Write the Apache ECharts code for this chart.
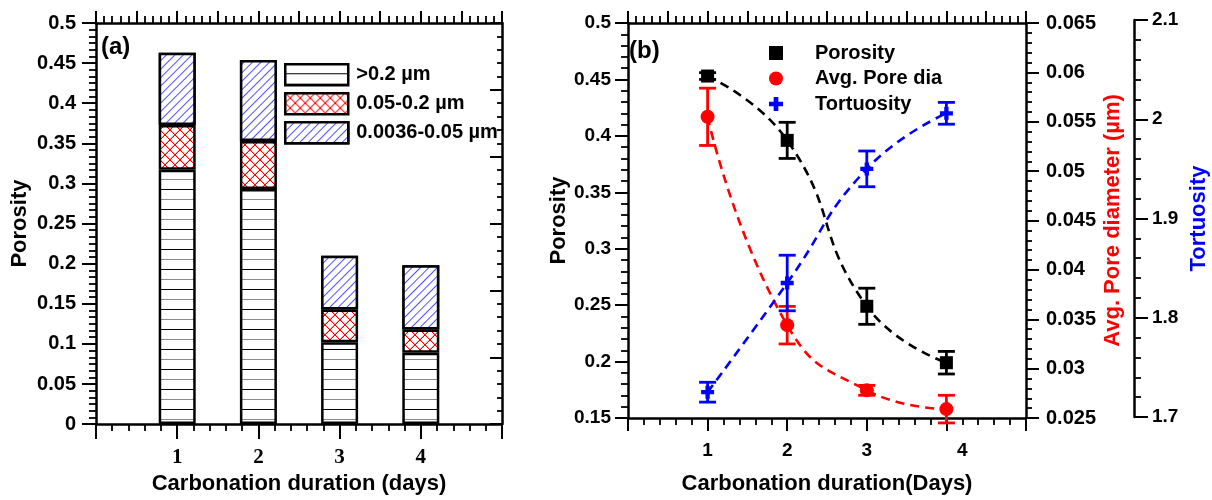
<!DOCTYPE html>
<html><head><meta charset="utf-8">
<script src="https://cdn.jsdelivr.net/npm/echarts@6/dist/echarts.min.js"></script>
<style>html,body{margin:0;padding:0;background:#fff}#c{width:1212px;height:500px}</style>
</head><body><div id="c"></div>
<script>
// ---------- Panel (a): stacked porosity by pore size ----------
const daysA = [1, 2, 3, 4];
const poreLarge = [0.317, 0.293, 0.102, 0.089];   // >0.2 µm
const poreMid   = [0.056, 0.060, 0.041, 0.029];   // 0.05-0.2 µm
const poreSmall = [0.090, 0.101, 0.067, 0.080];   // 0.0036-0.05 µm
const namesA = ['>0.2 µm', '0.05-0.2 µm', '0.0036-0.05 µm'];

// ---------- Panel (b): porosity, pore diameter, tortuosity ----------
const daysB = [1, 2, 3, 4];
const porosity      = [0.453, 0.396, 0.249, 0.199];
const porosityErr   = [0.003, 0.016, 0.016, 0.010];
const poreDia       = [0.0555, 0.0344, 0.0278, 0.0259];
const poreDiaErr    = [0.0029, 0.0019, 0.0005, 0.0014];
const tortuosity    = [1.725, 1.835, 1.950, 2.006];
const tortuosityErr = [0.010, 0.028, 0.018, 0.011];
const namesB = ['Porosity', 'Avg. Pore dia', 'Tortuosity'];

const xTickLabels = ['1', '2', '3', '4'];

const FONT = '"Liberation Sans", Arial, sans-serif';
const SERIF = '"Liberation Serif", "Times New Roman", serif';
const PLUS = 'path://M4,0H8V4H12V8H8V12H4V8H0V4H4Z';

function mkPattern(w, h, draw) {
  const c = document.createElement('canvas'); c.width = w; c.height = h;
  const g = c.getContext('2d'); g.fillStyle = '#fff'; g.fillRect(0, 0, w, h); draw(g);
  return { image: c, repeat: 'repeat' };
}
// horizontal lines (alternating dark / grey)
const patH = mkPattern(4, 20, g => { g.fillStyle = '#000'; g.fillRect(0, 9, 4, 1); g.fillStyle = '#8a8a8a'; g.fillRect(0, 19, 4, 1); });
// red cross-hatch with dots at the crossings
const patX = mkPattern(10, 10, g => {
  g.fillStyle = '#ff0000';
  for (let i = 0; i < 10; i++) { g.fillRect(i, i, 1, 1); g.fillRect(i, 9 - i, 1, 1); }
  g.fillRect(4, 4, 2, 2); g.fillRect(0, 0, 1, 1); g.fillRect(9, 0, 1, 1); g.fillRect(0, 9, 1, 1); g.fillRect(9, 9, 1, 1);
  g.fillStyle = 'rgba(255,0,0,0.35)';
  for (let i = 0; i < 9; i++) { g.fillRect(i + 1, i, 1, 1); g.fillRect(i, 8 - i, 1, 1); }
});
// blue forward-diagonal hatch via ECharts decal
const decalD = { symbol: 'rect', symbolSize: 1, color: '#5050ff', backgroundColor: '#ffffff',
  dashArrayX: [8, 0], dashArrayY: [0.9, 5], rotation: -Math.PI / 4 };

const AXL = { show: true, onZero: false, lineStyle: { color: '#000', width: 2.5 } };
function tick(len, inside) { return { show: true, length: len, inside: !!inside, lineStyle: { color: '#000', width: 2 } }; }
function minor(n, len) { return { show: true, splitNumber: n, length: len, lineStyle: { color: '#000', width: 1.8 } }; }
const NOSPLIT = { show: false };
function nameStyle(color) { return { fontFamily: FONT, fontWeight: 'bold', fontSize: 22, color: color || '#000' }; }
function lab(size, margin) { return { color: '#000', fontFamily: FONT, fontWeight: 'bold', fontSize: size, margin: margin }; }
const xLabelFmt = v => (v >= 1 && v <= 4 && v === Math.round(v)) ? xTickLabels[v - 1] : '';

function errRender(color, cap) {
  return function (params, api) {
    const x = api.value(0), lo = api.value(2), hi = api.value(3);
    const pT = api.coord([x, hi]), pB = api.coord([x, lo]);
    const st = { stroke: color, lineWidth: 2.8 };
    return { type: 'group', children: [
      { type: 'line', shape: { x1: pT[0], y1: pT[1], x2: pB[0], y2: pB[1] }, style: st },
      { type: 'line', shape: { x1: pT[0] - cap, y1: pT[1], x2: pT[0] + cap, y2: pT[1] }, style: st },
      { type: 'line', shape: { x1: pB[0] - cap, y1: pB[1], x2: pB[0] + cap, y2: pB[1] }, style: st }
    ] };
  };
}
function errData(v, e) { return daysB.map((d, i) => [d, v[i], v[i] - e[i], v[i] + e[i]]); }
function pairs(xs, ys) { return xs.map((d, i) => [d, ys[i]]); }
// value first so that the stacked dimension is the porosity value
function barPairs(xs, ys) { return xs.map((d, i) => [ys[i], d]); }

const chart = echarts.init(document.getElementById('c'), null, { renderer: 'canvas' });
chart.setOption({
  animation: false,
  backgroundColor: '#fff',
  title: [
    { text: '(a)', left: 101, top: 35, padding: 0, textStyle: { fontFamily: FONT, fontWeight: 'bold', fontSize: 24, color: '#000' } },
    { text: '(b)', left: 629, top: 39, padding: 0, textStyle: { fontFamily: FONT, fontWeight: 'bold', fontSize: 24, color: '#000' } }
  ],
  grid: [
    { left: 96, top: 23, width: 406, height: 405 },
    { left: 628, top: 23, width: 398, height: 399 },
    { left: 628, top: 20, width: 398, height: 397 }
  ],
  legend: [
    { orient: 'vertical', left: 279, top: 58, itemWidth: 63, itemHeight: 21, itemGap: 5.5,
      data: namesA.map(n => ({ name: n, icon: 'rect' })),
      itemStyle: { borderColor: '#000', borderWidth: 2.5 },
      textStyle: { fontFamily: FONT, fontWeight: 'bold', fontSize: 20, color: '#000', padding: [0, 0, 0, 3] } },
    { orient: 'vertical', left: 764, top: 38, itemWidth: 14, itemHeight: 14, itemGap: 5.5,
      data: [{ name: namesB[0], icon: 'rect' }, { name: namesB[1], icon: 'circle' }, { name: namesB[2], icon: PLUS }],
      textStyle: { fontFamily: FONT, fontWeight: 'bold', fontSize: 20, color: '#000', padding: [0, 0, 0, 27] } }
  ],
  xAxis: [
    { gridIndex: 0, type: 'value', position: 'bottom', min: 0, max: 5, interval: 1,
      axisLine: AXL, axisTick: tick(15), minorTick: minor(5, 7), splitLine: NOSPLIT,
      axisLabel: { formatter: xLabelFmt, color: '#000', fontFamily: SERIF, fontWeight: 'bold', fontSize: 21, margin: 23 },
      name: 'Carbonation duration (days)', nameLocation: 'middle', nameGap: 48, nameTextStyle: nameStyle() },
    { gridIndex: 0, type: 'value', position: 'top', min: 0, max: 5, interval: 0.5,
      axisLine: AXL, axisTick: tick(12), minorTick: minor(5, 7), splitLine: NOSPLIT, axisLabel: { show: false } },
    { gridIndex: 1, type: 'value', position: 'bottom', min: 0, max: 5, interval: 1,
      axisLine: AXL, axisTick: tick(13), minorTick: minor(5, 7), splitLine: NOSPLIT,
      axisLabel: { formatter: v => { const s = xLabelFmt(v); return s === '4' ? '{f|' + s + '}' : s; },
        color: '#000', fontFamily: FONT, fontWeight: 'bold', fontSize: 19, margin: 23,
        rich: { f: { padding: [0, 0, 0, 32], color: '#000', fontFamily: FONT, fontWeight: 'bold', fontSize: 19 } } },
      name: 'Carbonation duration(Days)', nameLocation: 'middle', nameGap: 55, nameTextStyle: nameStyle() },
    { gridIndex: 1, type: 'value', position: 'top', min: 0, max: 5, interval: 0.5,
      axisLine: AXL, axisTick: tick(12), minorTick: minor(5, 7), splitLine: NOSPLIT, axisLabel: { show: false } },
    { gridIndex: 2, type: 'value', min: 0, max: 5, show: false, splitLine: NOSPLIT, axisLine: { onZero: false } }
  ],
  yAxis: [
    { gridIndex: 0, type: 'value', position: 'left', min: 0, max: 0.5, interval: 0.05,
      axisLine: AXL, axisTick: tick(14), minorTick: minor(6, 7), splitLine: NOSPLIT,
      axisLabel: lab(20, 20),
      name: 'Porosity', nameLocation: 'middle', nameGap: 65, nameRotate: 90, nameTextStyle: nameStyle() },
    { gridIndex: 0, type: 'value', position: 'right', min: 0, max: 6, interval: 1,
      axisLine: AXL, axisTick: tick(12, true), minorTick: minor(5, 5), splitLine: NOSPLIT, axisLabel: { show: false } },
    { gridIndex: 1, type: 'value', position: 'left', min: 0.15, max: 0.5, interval: 0.05,
      axisLine: AXL, axisTick: tick(13), minorTick: minor(5, 7), splitLine: NOSPLIT,
      axisLabel: lab(19, 17),
      name: 'Porosity', nameLocation: 'middle', nameGap: 50, nameRotate: 90, nameTextStyle: nameStyle() },
    { gridIndex: 1, type: 'value', position: 'right', min: 0.025, max: 0.065, interval: 0.005,
      axisLine: AXL, axisTick: tick(13), minorTick: minor(5, 6), splitLine: NOSPLIT,
      axisLabel: lab(20, 20),
      name: 'Avg. Pore diameter (µm)', nameLocation: 'middle', nameGap: 76, nameRotate: 90, nameTextStyle: nameStyle('#ff0000') },
    { gridIndex: 2, type: 'value', position: 'right', offset: 108, min: 1.7, max: 2.1, interval: 0.1,
      axisLine: AXL, axisTick: tick(14), minorTick: minor(5, 7), splitLine: NOSPLIT,
      axisLabel: lab(19, 18),
      name: 'Tortuosity', nameLocation: 'middle', nameGap: 54, nameRotate: 90, nameTextStyle: nameStyle('#0000ff') }
  ],
  series: [
    { name: namesA[0], type: 'bar', xAxisIndex: 0, yAxisIndex: 0, stack: 'a', barWidth: 37, encode: { x: 1, y: 0 },
      data: barPairs(daysA, poreLarge), itemStyle: { color: patH, borderColor: '#000', borderWidth: 2.5 } },
    { name: namesA[1], type: 'bar', xAxisIndex: 0, yAxisIndex: 0, stack: 'a', barWidth: 37, encode: { x: 1, y: 0 },
      data: barPairs(daysA, poreMid), itemStyle: { color: patX, borderColor: '#000', borderWidth: 2.5 } },
    { name: namesA[2], type: 'bar', xAxisIndex: 0, yAxisIndex: 0, stack: 'a', barWidth: 37, encode: { x: 1, y: 0 },
      data: barPairs(daysA, poreSmall), itemStyle: { color: '#ffffff', decal: decalD, borderColor: '#000', borderWidth: 2.5 } },

    { name: 'Porosity fit', type: 'line', xAxisIndex: 2, yAxisIndex: 2, smooth: 0.5, symbol: 'none', z: 2,
      data: pairs(daysB, porosity), lineStyle: { color: '#000', width: 2.6, type: [9, 6] } },
    { name: 'Pore dia fit', type: 'line', xAxisIndex: 2, yAxisIndex: 3, smooth: 0.5, symbol: 'none', z: 2,
      data: pairs(daysB, poreDia), lineStyle: { color: '#ff0000', width: 2.6, type: [9, 6] } },
    { name: 'Tortuosity fit', type: 'line', xAxisIndex: 4, yAxisIndex: 4, smooth: 0.5, symbol: 'none', z: 2,
      data: pairs(daysB, tortuosity), lineStyle: { color: '#0000ff', width: 2.6, type: [9, 6] } },

    { name: 'Porosity err', type: 'custom', xAxisIndex: 2, yAxisIndex: 2, z: 3, renderItem: errRender('#000', 8.5),
      encode: { x: 0, y: [1, 2, 3] }, data: errData(porosity, porosityErr) },
    { name: 'Pore dia err', type: 'custom', xAxisIndex: 2, yAxisIndex: 3, z: 3, renderItem: errRender('#ff0000', 8.5),
      encode: { x: 0, y: [1, 2, 3] }, data: errData(poreDia, poreDiaErr) },
    { name: 'Tortuosity err', type: 'custom', xAxisIndex: 4, yAxisIndex: 4, z: 3, renderItem: errRender('#0000ff', 8.5),
      encode: { x: 0, y: [1, 2, 3] }, data: errData(tortuosity, tortuosityErr) },

    { name: namesB[0], type: 'scatter', xAxisIndex: 2, yAxisIndex: 2, z: 5, symbol: 'rect', symbolSize: 13,
      data: pairs(daysB, porosity), itemStyle: { color: '#000', opacity: 1 } },
    { name: namesB[1], type: 'scatter', xAxisIndex: 2, yAxisIndex: 3, z: 5, symbol: 'circle', symbolSize: 14,
      data: pairs(daysB, poreDia), itemStyle: { color: '#ff0000', opacity: 1 } },
    { name: namesB[2], type: 'scatter', xAxisIndex: 4, yAxisIndex: 4, z: 5, symbol: PLUS, symbolSize: 13,
      data: pairs(daysB, tortuosity), itemStyle: { color: '#0000ff', opacity: 1 } }
  ]
});
</script></body></html>
